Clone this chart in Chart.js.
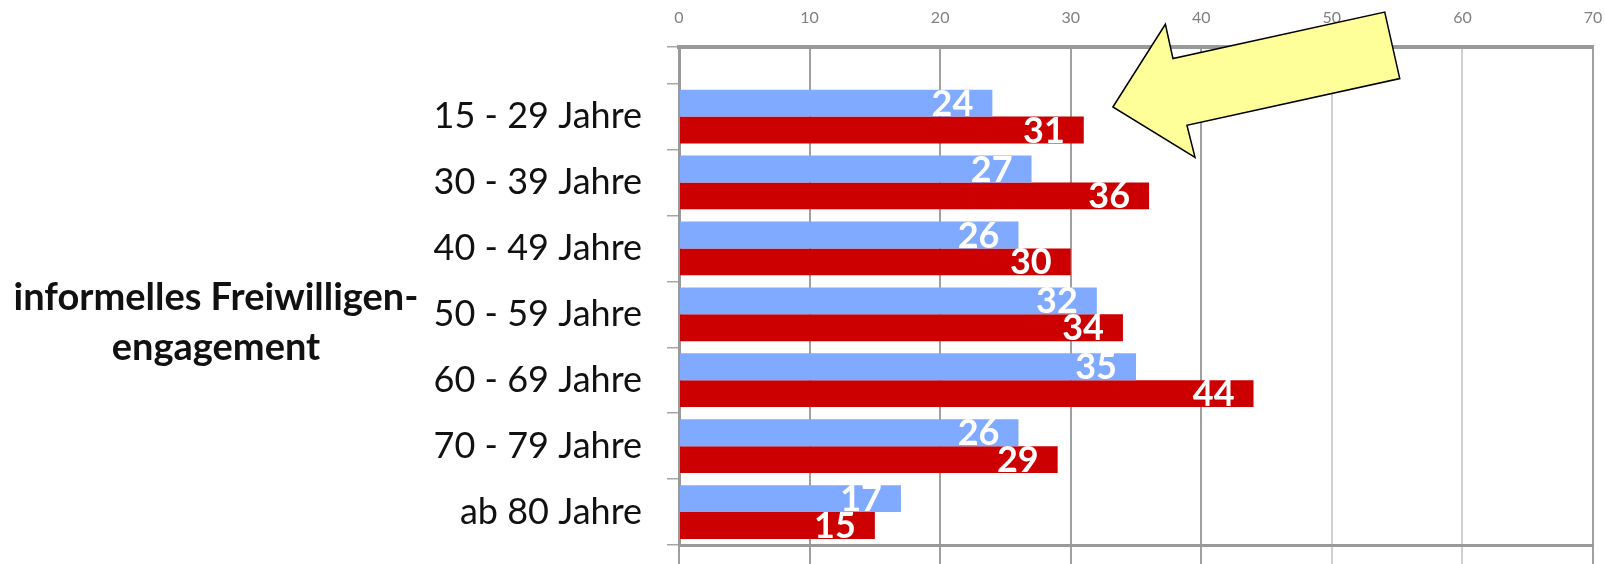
<!DOCTYPE html>
<html>
<head>
<meta charset="utf-8">
<script src="https://cdn.jsdelivr.net/npm/chart.js@4.4.0/dist/chart.umd.min.js"></script>
<style>
  html, body { margin: 0; padding: 0; background: #fff; }
  #wrap { width: 1605px; height: 564px; }
</style>
</head>
<body>
<div id="wrap"><canvas id="chart" width="1605" height="564"></canvas></div>
<script>
// age groups, top to bottom
const categories = ["15 - 29 Jahre", "30 - 39 Jahre", "40 - 49 Jahre", "50 - 59 Jahre",
  "60 - 69 Jahre", "70 - 79 Jahre", "ab 80 Jahre"];
const blueValues = [24, 27, 26, 32, 35, 26, 17];
const redValues = [31, 36, 30, 34, 44, 29, 15];
const xTicks = [0, 10, 20, 30, 40, 50, 60, 70];
const titleLines = ["informelles Freiwilligen-", "engagement"];

// yellow arrow outline, in axis units (x value, y band)
const arrowShape = [
  [33.23, 0.355], [37.25, -0.90], [37.83, -0.38], [54.05, -1.085],
  [55.2, -0.076], [38.9, 0.632], [39.52, 1.12]
];

const yMin = -0.555; // empty strip above the first row
const yMax = categories.length;

const toPoints = vals => vals.map((v, i) => ({ x: v, y: i + 0.5 }));

// excel-ish gridline shades
const gridColor = ctx => {
  const v = ctx.tick && ctx.tick.value;
  if (v === 50 || v === 60) return "#d0d0d0";
  return "#a0a0a0";
};

const valueLabels = {
  id: "valueLabels",
  afterDatasetsDraw(chart) {
    const ctx = chart.ctx;
    ctx.save();
    ctx.fillStyle = "#fff";
    ctx.font = "bold 36px Lato";
    ctx.textAlign = "right";
    ctx.textBaseline = "middle";
    chart.data.datasets.forEach((ds, di) => {
      chart.getDatasetMeta(di).data.forEach((bar, i) => {
        ctx.fillText(String(ds.data[i].x), bar.x - 19, bar.y + 1);
      });
    });
    ctx.restore();
  }
};

const sideTitle = {
  id: "sideTitle",
  afterDraw(chart) {
    const ctx = chart.ctx;
    ctx.save();
    ctx.fillStyle = "#111";
    ctx.font = "bold 38px Lato";
    ctx.textAlign = "center";
    ctx.textBaseline = "alphabetic";
    titleLines.forEach((t, i) => ctx.fillText(t, 216, 310 + i * 50));
    ctx.restore();
  }
};

const arrow = {
  id: "arrow",
  afterDraw(chart) {
    const { ctx, scales } = chart;
    ctx.save();
    ctx.beginPath();
    arrowShape.forEach(([vx, vy], i) => {
      const px = scales.x.getPixelForValue(vx);
      const py = scales.yl.getPixelForValue(vy);
      if (i === 0) ctx.moveTo(px, py); else ctx.lineTo(px, py);
    });
    ctx.closePath();
    ctx.fillStyle = "#ffff99";
    ctx.fill();
    ctx.lineWidth = 1.5;
    ctx.strokeStyle = "#000";
    ctx.stroke();
    ctx.restore();
  }
};

const noPad = s => { s.paddingTop = 0; s.paddingBottom = 0; };

new Chart(document.getElementById("chart"), {
  type: "bar",
  data: {
    datasets: [
      { data: toPoints(blueValues), backgroundColor: "#80aaff", xAxisID: "x", yAxisID: "yl" },
      { data: toPoints(redValues), backgroundColor: "#cc0000", xAxisID: "x", yAxisID: "yl" }
    ]
  },
  options: {
    indexAxis: "y",
    responsive: false,
    animation: false,
    layout: { padding: { left: 0, top: 0, bottom: 0, right: 12 } },
    datasets: { bar: { categoryPercentage: 0.815, barPercentage: 1.0 } },
    plugins: { legend: { display: false }, tooltip: { enabled: false }, title: { display: false } },
    scales: {
      x: {
        type: "linear", position: "top", min: 0, max: 70, offset: false,
        afterBuildTicks: s => { s.ticks = xTicks.map(v => ({ value: v })); },
        ticks: { color: "#808080", font: { family: "Lato", size: 16 }, padding: 20 },
        grid: { color: gridColor, lineWidth: 2, drawTicks: false, offset: false },
        border: { color: "#999", width: 4 },
        afterFit: s => { s.paddingLeft = 0; s.paddingRight = 0; s.height = 47; }
      },
      x2: {
        type: "linear", position: "bottom", min: 0, max: 70, offset: false,
        afterBuildTicks: s => { s.ticks = xTicks.map(v => ({ value: v })); },
        ticks: { display: false },
        grid: { color: gridColor, lineWidth: 2, drawOnChartArea: false, tickLength: 19, offset: false },
        border: { color: "#999", width: 3 },
        afterFit: s => { s.paddingLeft = 0; s.paddingRight = 0; s.height = 19; }
      },
      y: {
        type: "linear", position: "left", reverse: true, min: yMin, max: yMax, weight: 0, offset: false,
        afterBuildTicks: s => {
          s.ticks = [yMin].concat(categories.map((c, i) => i), [yMax]).map(v => ({ value: v }));
        },
        ticks: { display: false },
        grid: { color: "#a6a6a6", lineWidth: 1.5, drawOnChartArea: false, tickLength: 12, offset: false },
        border: { color: "#999", width: 3 },
        afterFit: s => { noPad(s); s.width = 12; }
      },
      yl: {
        type: "linear", position: "left", reverse: true, min: yMin, max: yMax, weight: 10, offset: false,
        afterBuildTicks: s => { s.ticks = categories.map((c, i) => ({ value: i + 0.5 })); },
        ticks: {
          color: "#111", font: { family: "Lato", size: 36 }, padding: 25,
          callback: (v, i) => categories[i]
        },
        grid: { display: false, drawTicks: false, offset: false },
        border: { display: false },
        afterFit: s => { noPad(s); s.width = 667; }
      }
    }
  },
  plugins: [valueLabels, sideTitle, arrow]
});
</script>
</body>
</html>
